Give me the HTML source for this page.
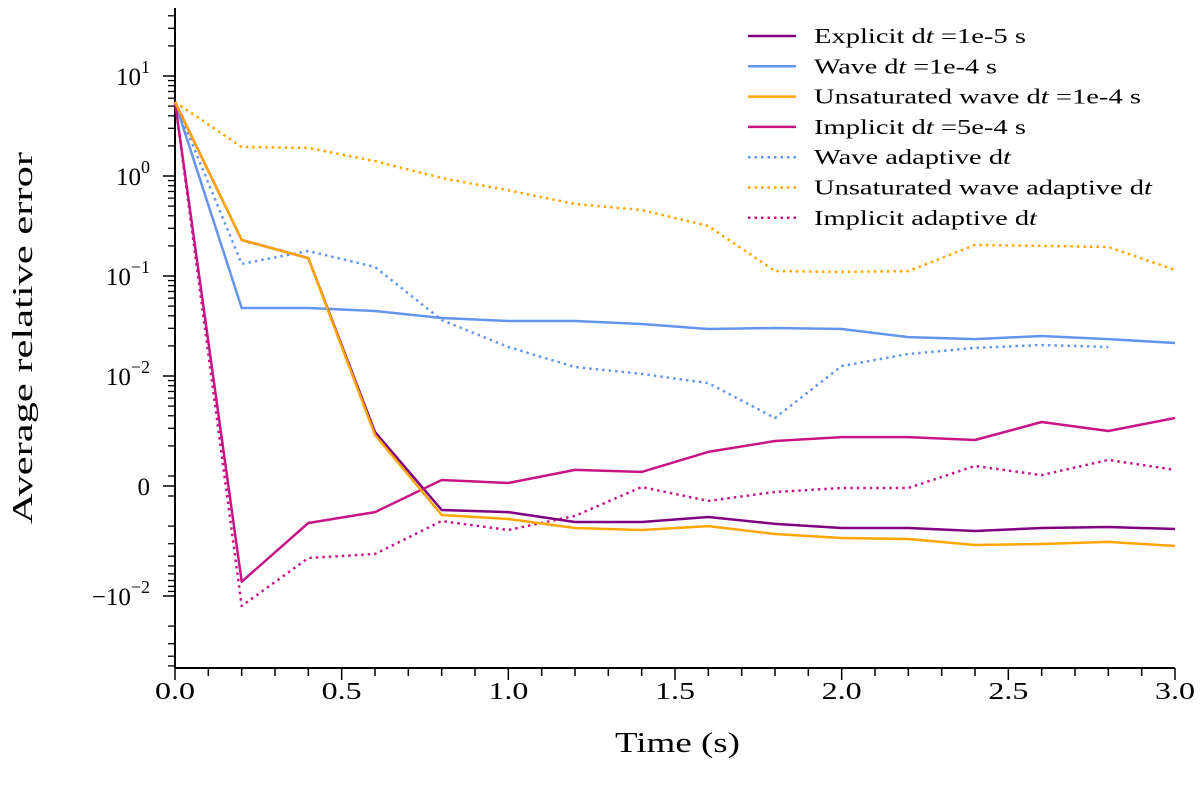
<!DOCTYPE html>
<html><head><meta charset="utf-8"><style>
html,body{margin:0;padding:0;background:#fff;}
svg text{font-family:"Liberation Serif",serif;fill:#000;}
</style></head><body>
<svg id="chart" width="1200" height="784" xmlns="http://www.w3.org/2000/svg"></svg>
<script>
const times=[0,0.2,0.4,0.6,0.8,1.0,1.2,1.4,1.6,1.8,2.0,2.2,2.4,2.6,2.8,3.0];
const explicitVals=[5.5,0.229,0.151,0.00275,-0.00138,-0.00145,-0.00182,-0.00182,-0.00162,-0.0019,-0.00209,-0.00209,-0.00224,-0.00209,-0.00204,-0.00214];
const waveVals=[5.5,0.0479,0.0479,0.0447,0.038,0.0355,0.0355,0.0331,0.0295,0.0302,0.0295,0.0245,0.0234,0.0251,0.0234,0.0214];
const unsatVals=[5.5,0.229,0.151,0.00257,-0.00155,-0.0017,-0.00209,-0.00219,-0.002,-0.0024,-0.00263,-0.00269,-0.00309,-0.00302,-0.00288,-0.00316];
const implicitVals=[5.5,-0.0072,-0.00186,-0.00145,0.0006,0.0003,0.00115,0.0011,0.00174,0.00224,0.00245,0.00245,0.00229,0.00347,0.00282,0.0038];
const waveAdaptVals=[5.5,0.132,0.178,0.123,0.0363,0.0195,0.0123,0.0105,0.0085,0.0038,0.0126,0.0166,0.0191,0.0204,0.0195];
const unsatAdaptVals=[5.5,1.95,1.91,1.41,0.955,0.72,0.525,0.457,0.316,0.112,0.11,0.112,0.204,0.2,0.195,0.115];
const implicitAdaptVals=[5.5,-0.0126,-0.00417,-0.0038,-0.00178,-0.00219,-0.00158,-0.0001,-0.00112,-0.0006,-0.0002,-0.0002,0.00126,0.00102,0.00145,0.00115];
const xTicks=[0,0.5,1.0,1.5,2.0,2.5,3.0];
const yTickExps=[1,0,-1,-2];

const svg=document.getElementById('chart');
const NS='http://www.w3.org/2000/svg';
const X0=175,X1=1175,Y0=486;
function xs(t){return X0+(t/3)*(X1-X0);}
function ys(v){const a=Math.abs(v),s=Math.sign(v);let off;
 if(a<=1e-3)off=10*a/1e-3;else off=10+100*(Math.log10(a)+3);
 return Y0-s*off;}
function mk(tag,attrs,parent){const e=document.createElementNS(NS,tag);for(const k in attrs)e.setAttribute(k,attrs[k]);(parent||svg).appendChild(e);return e;}

const ax=mk('g',{});


mk('line',{x1:X0,y1:8,x2:X0,y2:668,stroke:'#000','stroke-width':2},ax);
mk('line',{x1:X0,y1:668,x2:X1,y2:668,stroke:'#000','stroke-width':2},ax);
for(let i=0;i<=30;i++){const t=i/10;const major=i%5===0;
 mk('line',{x1:xs(t),y1:668,x2:xs(t),y2:major?680:676,stroke:'#000','stroke-width':1.5},ax);}
xTicks.forEach(t=>{const tx=mk('text',{x:xs(t)-20,y:699,'font-size':24,textLength:40,lengthAdjust:'spacingAndGlyphs'},ax);tx.textContent=t.toFixed(1);
 
 });
for(let e=-3;e<=1;e++){for(let m=2;m<=9;m++){const v=m*Math.pow(10,e);
 [v,-v].forEach(w=>{const y=ys(w);if(y>=8&&y<=668)mk('line',{x1:X0-7,y1:y,x2:X0,y2:y,stroke:'#000','stroke-width':1.3},ax);});}}
[1e-3,-1e-3].forEach(w=>mk('line',{x1:X0-7,y1:ys(w),x2:X0,y2:ys(w),stroke:'#000','stroke-width':1.3},ax));
const majors=[10,1,0.1,0.01,0,-0.01];
majors.forEach(v=>mk('line',{x1:X0-12,y1:ys(v),x2:X0,y2:ys(v),stroke:'#000','stroke-width':1.5},ax));
yTickExps.forEach(e=>{const tx=mk('text',{x:150,y:ys(Math.pow(10,e))+9,'font-size':25,'text-anchor':'end'},ax);
 tx.innerHTML='10<tspan dy="-12" font-size="18">'+(e<0?'\u2212'+(-e):e)+'</tspan>';
 
 });
let t0=mk('text',{x:150,y:ys(0)+9,'font-size':25,'text-anchor':'end'},ax);t0.textContent='0';
let tn=mk('text',{x:150,y:ys(-0.01)+9,'font-size':25,'text-anchor':'end'},ax);tn.innerHTML='\u221210<tspan dy="-12" font-size="18">\u22122</tspan>';
let xl=mk('text',{x:615,y:752,'font-size':28,textLength:125,lengthAdjust:'spacingAndGlyphs'});xl.textContent='Time (s)';


let yl=mk('text',{x:0,y:0,'font-size':28,textLength:372,lengthAdjust:'spacingAndGlyphs',transform:'translate(32 524) rotate(-90)'});yl.textContent='Average relative error';



const series=[
 {n:'explicit-line',v:explicitVals,c:'#800080',d:null},
 {n:'wave-line',v:waveVals,c:'#6495ED',d:null},
 {n:'unsaturated-wave-line',v:unsatVals,c:'#FFA500',d:null},
 {n:'implicit-line',v:implicitVals,c:'#C71585',d:null},
 {n:'wave-adaptive-line',v:waveAdaptVals,c:'#6495ED',d:'2.5 4'},
 {n:'unsaturated-wave-adaptive-line',v:unsatAdaptVals,c:'#FFA500',d:'2.5 4'},
 {n:'implicit-adaptive-line',v:implicitAdaptVals,c:'#C71585',d:'2.5 4'}];
const drawOrder=[4,5,6,1,0,3,2];
drawOrder.forEach(i=>{const s=series[i];
 const pts=s.v.map((v,j)=>xs(times[j]).toFixed(1)+','+ys(v).toFixed(1)).join(' ');
 const p=mk('polyline',{points:pts,fill:'none',stroke:s.c,'stroke-width':2.5,'stroke-linejoin':'round'});
 if(s.d)p.setAttribute('stroke-dasharray',s.d);
 
 });

const labels=['Explicit d<I>t</I> =1e-5 s','Wave d<I>t</I> =1e-4 s','Unsaturated wave d<I>t</I> =1e-4 s','Implicit d<I>t</I> =5e-4 s','Wave adaptive d<I>t</I>','Unsaturated wave adaptive d<I>t</I>','Implicit adaptive d<I>t</I>'];
const labelWidths=[212,183,327,212,197,338,223];
const lg=mk('g',{});


series.forEach((s,i)=>{const y=36+i*30.3;
 const g=mk('g',{},lg);
 
 
 const l=mk('line',{x1:748,y1:y,x2:796,y2:y,stroke:s.c,'stroke-width':2.5},g);
 if(s.d)l.setAttribute('stroke-dasharray',s.d);
 const tx=mk('text',{x:814,y:y+7,'font-size':21,textLength:labelWidths[i],lengthAdjust:'spacingAndGlyphs'},g);
 tx.innerHTML=labels[i].replace(/<I>t<\/I>/g,'<tspan font-style="italic">t</tspan>');});
</script>
</body></html>
